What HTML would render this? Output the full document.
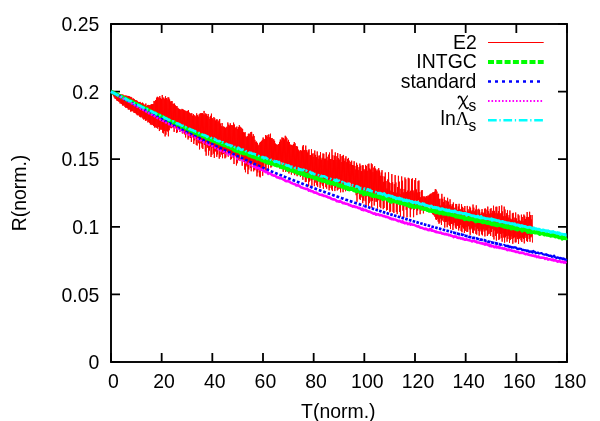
<!DOCTYPE html>
<html><head><meta charset="utf-8"><title>R(norm.) vs T(norm.)</title>
<style>html,body{margin:0;padding:0;background:#fff}body{width:600px;height:421px;overflow:hidden;font-family:"Liberation Sans",sans-serif}</style>
</head><body>
<svg width="600" height="421" viewBox="0 0 600 421" style="display:block;will-change:transform;font-family:'Liberation Sans',sans-serif;font-size:20px">
<rect width="600" height="421" fill="#fff"/>
<g stroke="#000" fill="none" stroke-linecap="square">
<rect x="111.0" y="24.0" width="456.0" height="338.0" stroke-width="1.9"/>
<path d="M111.00 362.0V353.0M111.00 24.0V33.0M161.67 362.0V353.0M161.67 24.0V33.0M212.33 362.0V353.0M212.33 24.0V33.0M263.00 362.0V353.0M263.00 24.0V33.0M313.67 362.0V353.0M313.67 24.0V33.0M364.33 362.0V353.0M364.33 24.0V33.0M415.00 362.0V353.0M415.00 24.0V33.0M465.67 362.0V353.0M465.67 24.0V33.0M516.33 362.0V353.0M516.33 24.0V33.0M567.00 362.0V353.0M567.00 24.0V33.0M111.0 362.00H120.0M567.0 362.00H558.0M111.0 294.40H120.0M567.0 294.40H558.0M111.0 226.80H120.0M567.0 226.80H558.0M111.0 159.20H120.0M567.0 159.20H558.0M111.0 91.60H120.0M567.0 91.60H558.0M111.0 24.00H120.0M567.0 24.00H558.0" stroke-width="1.8" stroke-linecap="butt"/>
</g>
<g fill="#000">
<text transform="translate(113.4 388.4) scale(0.972 1)" text-anchor="middle">0</text>
<text transform="translate(164.1 388.4) scale(0.972 1)" text-anchor="middle">20</text>
<text transform="translate(214.7 388.4) scale(0.972 1)" text-anchor="middle">40</text>
<text transform="translate(265.4 388.4) scale(0.972 1)" text-anchor="middle">60</text>
<text transform="translate(316.1 388.4) scale(0.972 1)" text-anchor="middle">80</text>
<text transform="translate(367.3 388.4) scale(0.972 1)" text-anchor="middle">100</text>
<text transform="translate(418.0 388.4) scale(0.972 1)" text-anchor="middle">120</text>
<text transform="translate(468.7 388.4) scale(0.972 1)" text-anchor="middle">140</text>
<text transform="translate(519.3 388.4) scale(0.972 1)" text-anchor="middle">160</text>
<text transform="translate(570.0 388.4) scale(0.972 1)" text-anchor="middle">180</text>
<text transform="translate(99.3 369.1) scale(0.972 1)" text-anchor="end">0</text>
<text transform="translate(99.3 301.5) scale(0.972 1)" text-anchor="end">0.05</text>
<text transform="translate(99.3 233.9) scale(0.972 1)" text-anchor="end">0.1</text>
<text transform="translate(99.3 166.3) scale(0.972 1)" text-anchor="end">0.15</text>
<text transform="translate(99.3 98.7) scale(0.972 1)" text-anchor="end">0.2</text>
<text transform="translate(99.3 31.1) scale(0.972 1)" text-anchor="end">0.25</text>
<text transform="translate(338.3 417.5) scale(0.972 1)" text-anchor="middle">T(norm.)</text>
<text transform="translate(25.8 193) rotate(-90) scale(0.972 1)" text-anchor="middle">R(norm.)</text>
</g>
<clipPath id="c"><rect x="108.0" y="24.0" width="460.0" height="338.0"/></clipPath>
<g fill="none" stroke-linejoin="round" clip-path="url(#c)">
<path d="M111.00 91.95L111.41 91.09L111.82 93.36L112.23 91.57L112.64 94.60L113.05 91.89L113.46 96.17L113.87 91.98L114.28 97.47L114.69 92.28L115.10 98.72L115.51 92.65L115.92 99.10L116.33 92.37L116.74 100.49L117.15 92.87L117.56 100.97L117.97 93.36L118.38 101.32L118.79 94.02L119.20 102.00L119.61 94.05L120.02 103.42L120.43 94.00L120.84 103.43L121.25 94.52L121.66 104.09L122.07 94.64L122.48 105.41L122.89 94.57L123.30 105.53L123.71 95.37L124.12 105.29L124.53 95.68L124.94 106.90L125.35 95.61L125.76 107.72L126.17 95.52L126.58 107.58L126.99 96.45L127.40 108.09L127.81 95.85L128.22 109.38L128.63 96.09L129.04 109.69L129.45 96.39L129.86 109.35L130.27 96.87L130.68 111.60L131.09 96.93L131.50 111.23L131.91 97.73L132.32 110.98L132.73 99.09L133.14 111.57L133.55 98.53L133.96 112.74L134.37 99.22L134.78 113.03L135.19 100.05L135.60 113.20L136.01 100.08L136.42 114.24L136.83 100.56L137.24 115.19L137.65 101.30L138.06 115.23L138.47 102.08L138.88 115.34L139.29 102.01L139.70 116.72L140.11 101.90L140.52 117.24L140.93 102.86L141.34 116.72L141.75 103.40L142.16 117.67L142.57 102.63L142.98 118.63L143.39 103.61L143.80 119.63L144.21 105.06L144.62 118.86L145.03 104.41L145.44 120.79L145.85 103.53L146.26 120.57L146.67 106.16L147.08 120.18L147.49 105.35L147.90 122.42L148.31 104.92L148.72 122.03L149.13 105.08L149.54 122.98L149.95 105.30L150.36 124.41L150.77 104.71L151.18 124.41L151.59 104.24L152.00 125.09L152.41 104.15L152.82 124.78L153.23 104.07L153.64 126.04L154.05 100.95L154.46 127.51L154.87 101.45L155.28 126.90L155.69 99.98L156.10 127.82L156.51 97.77L156.92 127.50L157.33 96.77L157.74 128.70L158.15 97.35L158.56 127.02L158.97 97.88L159.38 131.04L159.79 96.05L160.20 129.65L160.61 97.92L161.02 129.23L161.43 98.94L161.84 129.75L162.25 94.98L162.66 132.71L163.07 97.71L163.48 133.36L163.89 97.67L164.30 131.08L164.71 99.17L165.12 136.44L165.53 96.23L165.94 134.68L166.35 98.09L166.76 131.07L167.17 99.61L167.58 131.43L167.99 97.33L168.40 136.31L168.81 97.53L169.22 130.30L169.63 99.49L170.04 127.16L170.45 101.60L170.86 128.17L171.27 101.19L171.68 128.16L172.09 101.11L172.50 126.95L172.91 103.90L173.32 128.00L173.73 103.76L174.14 131.90L174.55 103.59L174.96 128.45L175.37 105.33L175.78 127.40L176.19 106.17L176.60 133.03L177.01 106.14L177.42 132.24L177.83 107.80L178.24 129.18L178.65 108.61L179.06 129.00L179.47 109.21L179.88 131.99L180.29 109.41L180.70 129.58L181.11 110.11L181.52 128.43L181.93 108.89L182.34 133.41L182.75 109.08L183.16 133.27L183.57 109.82L183.98 129.65L184.39 110.35L184.80 134.46L185.21 110.69L185.62 137.46L186.03 110.91L186.44 132.07L186.85 111.62L187.26 133.70L187.67 110.83L188.08 139.48L188.49 110.13L188.90 137.73L189.31 112.57L189.72 133.52L190.13 113.23L190.54 137.98L190.95 113.97L191.36 142.00L191.77 113.12L192.18 135.69L192.59 115.70L193.00 137.28L193.41 114.04L193.82 143.91L194.23 115.32L194.64 140.35L195.05 115.68L195.46 137.75L195.87 116.72L196.28 144.96L196.69 113.38L197.10 145.56L197.51 115.28L197.92 138.40L198.33 116.62L198.74 143.24L199.15 114.44L199.56 149.41L199.97 113.61L200.38 142.60L200.79 113.18L201.20 143.75L201.61 113.29L202.02 147.67L202.43 113.14L202.84 148.99L203.25 114.30L203.66 143.00L204.07 110.93L204.48 144.79L204.89 114.65L205.30 151.53L205.71 113.43L206.12 155.69L206.53 114.30L206.94 145.10L207.35 116.10L207.76 147.72L208.17 113.97L208.58 155.41L208.99 116.85L209.40 150.54L209.81 118.91L210.22 146.74L210.63 115.82L211.04 157.03L211.45 113.65L211.86 154.82L212.27 118.12L212.68 147.49L213.09 119.46L213.50 153.51L213.91 117.10L214.32 157.89L214.73 118.24L215.14 151.34L215.55 120.56L215.96 151.40L216.37 119.51L216.78 156.87L217.19 119.43L217.60 154.40L218.01 122.07L218.42 148.85L218.83 120.61L219.24 158.65L219.65 119.04L220.06 156.98L220.47 123.57L220.88 150.28L221.29 126.14L221.70 154.55L222.11 123.00L222.52 158.18L222.93 126.59L223.34 153.92L223.75 126.53L224.16 152.23L224.57 127.12L224.98 158.33L225.39 127.99L225.80 157.40L226.21 127.34L226.62 150.91L227.03 126.66L227.44 152.80L227.85 122.47L228.26 156.64L228.67 124.71L229.08 154.64L229.49 125.62L229.90 151.93L230.31 123.34L230.72 159.67L231.13 125.10L231.54 158.96L231.95 125.38L232.36 153.28L232.77 125.34L233.18 157.93L233.59 122.61L234.00 164.04L234.41 124.57L234.82 156.28L235.23 127.85L235.64 155.82L236.05 127.25L236.46 165.45L236.87 126.58L237.28 163.27L237.69 128.97L238.10 155.72L238.51 127.20L238.92 160.21L239.33 125.24L239.74 160.54L240.15 126.75L240.56 153.14L240.97 127.55L241.38 158.84L241.79 128.22L242.20 165.73L242.61 129.09L243.02 161.96L243.43 132.21L243.84 161.36L244.25 132.83L244.66 169.56L245.07 132.08L245.48 172.28L245.89 136.26L246.30 165.34L246.71 137.17L247.12 166.62L247.53 136.27L247.94 174.12L248.35 133.84L248.76 169.51L249.17 133.61L249.58 162.43L249.99 134.25L250.40 167.78L250.81 132.13L251.22 171.26L251.63 131.90L252.04 164.49L252.45 136.55L252.86 162.65L253.27 134.19L253.68 171.36L254.09 135.94L254.50 170.10L254.91 139.82L255.32 163.68L255.73 141.86L256.14 170.26L256.55 141.62L256.96 176.42L257.37 142.87L257.78 172.46L258.19 145.54L258.60 169.69L259.01 144.65L259.42 176.50L259.83 142.72L260.24 177.37L260.65 141.88L261.06 169.30L261.47 141.26L261.88 169.72L262.29 139.89L262.70 175.76L263.11 137.54L263.52 170.62L263.93 138.95L264.34 162.29L264.75 139.29L265.16 169.69L265.57 135.09L265.98 171.50L266.39 135.67L266.80 164.66L267.21 136.87L267.62 162.87L268.03 134.93L268.44 170.27L268.85 134.40L269.26 164.41L269.67 137.32L270.08 159.80L270.49 133.70L270.90 167.58L271.31 138.17L271.72 166.58L272.13 138.05L272.54 159.57L272.95 139.68L273.36 163.66L273.77 139.27L274.18 165.04L274.59 140.87L275.00 161.64L275.41 143.53L275.82 160.18L276.23 144.31L276.64 165.03L277.05 144.91L277.46 164.94L277.87 144.71L278.28 162.47L278.69 144.00L279.10 163.67L279.51 141.90L279.92 168.71L280.33 139.55L280.74 167.75L281.15 140.48L281.56 161.95L281.97 137.40L282.38 166.82L282.79 137.89L283.20 171.77L283.61 137.91L284.02 165.85L284.43 139.47L284.84 163.34L285.25 135.77L285.66 171.92L286.07 136.76L286.48 169.30L286.89 138.20L287.30 164.32L287.71 141.61L288.12 170.98L288.53 139.87L288.94 173.48L289.35 142.05L289.76 171.50L290.17 144.55L290.58 169.15L290.99 144.85L291.40 174.64L291.81 144.95L292.22 172.47L292.63 145.45L293.04 166.70L293.45 144.02L293.86 173.17L294.27 142.11L294.68 175.16L295.09 143.33L295.50 167.26L295.91 146.11L296.32 169.27L296.73 146.02L297.14 176.19L297.55 146.77L297.96 171.76L298.37 149.68L298.78 169.27L299.19 151.41L299.60 172.91L300.01 150.41L300.42 176.86L300.83 150.03L301.24 172.07L301.65 150.94L302.06 175.32L302.47 146.54L302.88 179.85L303.29 145.00L303.70 173.85L304.11 150.30L304.52 172.10L304.93 149.94L305.34 182.08L305.75 145.61L306.16 181.90L306.57 150.25L306.98 174.55L307.39 152.52L307.80 175.98L308.21 150.37L308.62 186.26L309.03 149.37L309.44 181.54L309.85 155.19L310.26 175.76L310.67 155.17L311.08 180.50L311.49 149.19L311.90 185.78L312.31 153.56L312.72 179.54L313.13 156.90L313.54 179.20L313.95 153.34L314.36 186.15L314.77 150.51L315.18 182.62L315.59 154.89L316.00 177.99L316.41 157.15L316.82 185.32L317.23 151.48L317.64 186.84L318.05 155.61L318.46 178.40L318.87 158.78L319.28 181.32L319.69 155.47L320.10 187.86L320.51 152.17L320.92 184.31L321.33 159.64L321.74 180.29L322.15 157.82L322.56 185.71L322.97 153.46L323.38 188.84L323.79 153.83L324.20 183.17L324.61 158.75L325.02 181.71L325.43 158.73L325.84 187.19L326.25 152.24L326.66 188.70L327.07 156.76L327.48 182.35L327.89 160.27L328.30 181.69L328.71 154.64L329.12 190.32L329.53 152.55L329.94 187.86L330.35 159.21L330.76 183.09L331.17 158.98L331.58 189.46L331.99 149.33L332.40 191.04L332.81 155.26L333.22 184.03L333.63 160.03L334.04 184.16L334.45 155.74L334.86 191.09L335.27 152.39L335.68 187.99L336.09 159.80L336.50 180.53L336.91 156.19L337.32 190.44L337.73 153.10L338.14 189.48L338.55 158.31L338.96 183.41L339.37 159.59L339.78 188.75L340.19 154.09L340.60 192.35L341.01 156.27L341.42 184.03L341.83 162.04L342.24 184.91L342.65 155.75L343.06 192.23L343.47 154.95L343.88 186.84L344.29 160.84L344.70 181.50L345.11 158.40L345.52 191.23L345.93 156.27L346.34 187.89L346.75 162.17L347.16 181.69L347.57 158.99L347.98 188.61L348.39 157.95L348.80 190.31L349.21 160.62L349.62 182.29L350.03 164.23L350.44 182.55L350.85 161.85L351.26 187.81L351.67 160.70L352.08 186.57L352.49 165.05L352.90 183.20L353.31 165.29L353.72 188.31L354.13 161.25L354.54 190.53L354.95 165.90L355.36 186.19L355.77 169.47L356.18 195.22L356.59 162.79L357.00 201.77L357.41 164.89L357.82 194.04L358.23 170.08L358.64 191.45L359.05 167.08L359.46 198.91L359.87 163.58L360.28 200.02L360.69 165.70L361.10 197.37L361.51 171.25L361.92 195.17L362.33 165.33L362.74 203.16L363.15 165.24L363.56 200.51L363.97 168.98L364.38 194.35L364.79 170.33L365.20 201.21L365.61 164.91L366.02 204.99L366.43 166.09L366.84 196.58L367.25 170.78L367.66 195.56L368.07 164.17L368.48 206.07L368.89 163.64L369.30 203.17L369.71 168.47L370.12 194.02L370.53 169.60L370.94 201.42L371.35 163.41L371.76 207.64L372.17 164.26L372.58 200.80L372.99 172.10L373.40 197.85L373.81 167.63L374.22 205.54L374.63 166.13L375.04 201.78L375.45 168.52L375.86 193.98L376.27 170.86L376.68 201.71L377.09 169.53L377.50 208.55L377.91 171.27L378.32 200.24L378.73 168.13L379.14 196.29L379.55 170.60L379.96 206.86L380.37 175.78L380.78 208.20L381.19 172.48L381.60 196.26L382.01 170.17L382.42 197.60L382.83 176.24L383.24 209.15L383.65 181.82L384.06 208.00L384.47 176.68L384.88 196.98L385.29 172.51L385.70 198.34L386.11 181.12L386.52 210.55L386.93 188.50L387.34 209.93L387.75 179.46L388.16 197.65L388.57 172.23L388.98 198.25L389.39 182.48L389.80 212.17L390.21 190.68L390.62 211.56L391.03 183.07L391.44 199.20L391.85 174.06L392.26 199.99L392.67 182.29L393.08 211.91L393.49 192.14L393.90 213.04L394.31 184.18L394.72 201.48L395.13 175.10L395.54 199.71L395.95 182.49L396.36 211.95L396.77 192.71L397.18 214.10L397.59 187.07L398.00 202.47L398.41 175.80L398.82 200.39L399.23 181.65L399.64 211.92L400.05 193.96L400.46 216.34L400.87 188.77L401.28 204.89L401.69 176.41L402.10 199.82L402.51 180.75L402.92 210.65L403.33 192.37L403.74 217.46L404.15 189.04L404.56 206.14L404.97 177.44L405.38 198.95L405.79 179.27L406.20 209.84L406.61 192.05L407.02 217.33L407.43 190.67L407.84 207.00L408.25 177.79L408.66 199.86L409.07 178.44L409.48 208.28L409.89 191.92L410.30 217.22L410.71 190.76L411.12 209.32L411.53 179.17L411.94 199.77L412.35 178.30L412.76 207.29L413.17 190.53L413.58 217.22L413.99 192.47L414.40 209.63L414.81 180.07L415.22 199.96L415.63 178.03L416.04 205.03L416.45 189.53L416.86 215.12L417.27 192.54L417.68 210.49L418.09 181.17L418.50 200.10L418.91 180.47L419.32 205.75L419.73 192.03L420.14 214.19L420.55 197.35L420.96 210.65L421.37 190.56L421.78 204.01L422.19 190.07L422.60 207.24L423.01 196.07L423.42 213.39L423.83 197.11L424.24 210.73L424.65 196.49L425.06 205.76L425.47 197.52L425.88 206.80L426.29 196.00L426.70 208.88L427.11 196.69L427.52 208.41L427.93 195.65L428.34 207.20L428.75 195.60L429.16 207.16L429.57 194.69L429.98 206.80L430.39 193.77L430.80 208.34L431.21 194.16L431.62 210.04L432.03 193.01L432.44 214.00L432.85 192.31L433.26 214.88L433.67 192.22L434.08 215.37L434.49 191.72L434.90 216.77L435.31 189.15L435.72 219.40L436.13 189.66L436.54 219.88L436.95 191.58L437.36 218.78L437.77 194.01L438.18 221.66L438.59 193.77L439.00 223.76L439.41 198.83L439.82 222.58L440.23 205.51L440.64 218.54L441.05 198.69L441.46 224.93L441.87 193.85L442.28 220.51L442.69 198.82L443.10 218.10L443.51 201.96L443.92 221.78L444.33 196.86L444.74 227.61L445.15 200.24L445.56 221.98L445.97 205.30L446.38 221.73L446.79 200.75L447.20 227.25L447.61 197.78L448.02 224.76L448.43 201.70L448.84 221.30L449.25 204.72L449.66 225.82L450.07 199.28L450.48 229.06L450.89 204.26L451.30 223.96L451.71 206.36L452.12 223.80L452.53 204.38L452.94 229.98L453.35 202.46L453.76 225.39L454.17 208.36L454.58 222.68L454.99 207.66L455.40 227.61L455.81 203.91L456.22 228.95L456.63 204.03L457.04 225.45L457.45 209.91L457.86 225.92L458.27 206.44L458.68 230.47L459.09 203.81L459.50 228.12L459.91 208.94L460.32 224.83L460.73 209.65L461.14 231.01L461.55 204.26L461.96 232.26L462.37 206.83L462.78 227.29L463.19 210.94L463.60 228.49L464.01 207.80L464.42 232.98L464.83 206.02L465.24 230.97L465.65 211.27L466.06 227.10L466.47 211.96L466.88 231.96L467.29 205.92L467.70 231.80L468.11 209.32L468.52 226.23L468.93 211.42L469.34 229.38L469.75 206.51L470.16 234.82L470.57 207.73L470.98 229.27L471.39 211.37L471.80 227.94L472.21 210.11L472.62 232.77L473.03 204.52L473.44 233.28L473.85 207.67L474.26 230.48L474.67 211.35L475.08 226.86L475.49 209.63L475.90 233.86L476.31 205.36L476.72 234.61L477.13 209.51L477.54 228.63L477.95 214.23L478.36 230.98L478.77 208.76L479.18 235.71L479.59 209.88L480.00 231.37L480.41 214.37L480.82 229.52L481.23 212.40L481.64 234.36L482.05 209.08L482.46 235.34L482.87 212.36L483.28 229.46L483.69 213.29L484.10 231.52L484.51 208.82L484.92 236.47L485.33 208.48L485.74 230.41L486.15 214.01L486.56 230.28L486.97 209.58L487.38 235.99L487.79 206.60L488.20 234.32L488.61 211.24L489.02 228.10L489.43 213.69L489.84 233.74L490.25 209.00L490.66 235.93L491.07 208.13L491.48 231.99L491.89 213.17L492.30 228.84L492.71 210.88L493.12 237.07L493.53 205.71L493.94 239.51L494.35 210.88L494.76 230.49L495.17 213.19L495.58 235.93L495.99 206.78L496.40 240.61L496.81 206.72L497.22 233.60L497.63 213.48L498.04 232.82L498.45 211.13L498.86 239.99L499.27 206.14L499.68 238.93L500.09 214.31L500.50 233.80L500.91 213.10L501.32 237.89L501.73 205.43L502.14 241.68L502.55 211.46L502.96 233.35L503.37 216.28L503.78 237.55L504.19 206.63L504.60 242.65L505.01 209.49L505.42 237.33L505.83 215.83L506.24 235.99L506.65 213.24L507.06 241.70L507.47 209.97L507.88 238.94L508.29 217.58L508.70 235.68L509.11 215.12L509.52 242.96L509.93 210.48L510.34 240.06L510.75 218.70L511.16 236.43L511.57 219.56L511.98 239.00L512.39 213.42L512.80 243.75L513.21 212.84L513.62 238.22L514.03 220.07L514.44 237.25L514.85 217.64L515.26 242.38L515.67 212.51L516.08 242.30L516.49 218.46L516.90 237.16L517.31 221.18L517.72 239.11L518.13 214.33L518.54 243.99L518.95 215.49L519.36 238.68L519.77 220.27L520.18 237.88L520.59 221.10L521.00 240.34L521.41 214.67L521.82 242.01L522.23 216.98L522.64 237.66L523.05 221.22L523.46 238.88L523.87 214.54L524.28 243.41L524.69 215.73L525.10 237.88L525.51 219.02L525.92 235.40L526.33 217.21L526.74 241.11L527.15 212.02L527.56 241.76L527.97 216.93L528.38 235.07L528.79 217.19L529.20 239.03L529.61 211.79L530.02 241.76L530.43 215.01L530.84 237.44L531.25 219.46L531.66 236.57L532.07 215.02L532.48 242.65" stroke="#ff0000" stroke-width="1"/>
<path d="M111.0 91.8L111.8 92.0L112.6 92.4L113.4 92.9L114.2 93.1L115.0 93.6L115.8 94.0L116.6 94.2L117.4 95.0L118.2 95.3L119.0 95.6L119.8 96.0L120.6 96.5L121.4 96.8L122.2 97.2L123.0 97.4L123.8 98.1L124.6 98.4L125.4 98.8L126.2 98.9L127.0 99.9L127.8 100.0L128.6 100.4L129.4 101.2L130.2 101.2L131.0 101.4L131.8 102.0L132.6 102.0L133.4 103.0L134.2 103.2L135.0 103.5L135.8 104.2L136.6 104.1L137.4 105.0L138.2 104.9L139.0 105.5L139.8 105.8L140.6 106.7L141.4 107.2L142.2 107.2L143.0 107.8L143.8 108.0L144.6 108.6L145.4 108.7L146.2 108.9L147.0 109.3L147.8 110.2L148.6 111.0L149.4 110.9L150.2 111.2L151.0 112.1L151.8 112.1L152.6 112.5L153.4 112.9L154.2 113.2L155.0 113.6L155.8 113.7L156.6 114.6L157.4 114.8L158.2 115.5L159.0 115.5L159.8 115.6L160.6 116.4L161.4 117.2L162.2 117.1L163.0 117.4L163.8 117.7L164.6 118.1L165.4 118.7L166.2 118.8L167.0 119.9L167.8 119.8L168.6 120.3L169.4 121.1L170.2 121.5L171.0 121.4L171.8 121.9L172.6 122.4L173.4 122.5L174.2 122.4L175.0 123.5L175.8 124.0L176.6 124.2L177.4 124.2L178.2 124.8L179.0 125.1L179.8 125.5L180.6 126.4L181.4 126.8L182.2 127.0L183.0 127.3L183.8 127.7L184.6 127.9L185.4 128.2L186.2 128.4L187.0 129.0L187.8 130.1L188.6 130.0L189.4 130.0L190.2 130.3L191.0 130.5L191.8 131.3L192.6 131.7L193.4 131.4L194.2 132.5L195.0 132.5L195.8 133.5L196.6 133.4L197.4 134.4L198.2 133.9L199.0 134.4L199.8 134.9L200.6 135.6L201.4 135.8L202.2 135.4L203.0 136.3L203.8 136.6L204.6 136.8L205.4 137.1L206.2 138.4L207.0 137.9L207.8 138.0L208.6 139.0L209.4 139.1L210.2 139.4L211.0 140.0L211.8 140.3L212.6 140.5L213.4 141.1L214.2 141.2L215.0 141.1L215.8 141.6L216.6 141.8L217.4 142.5L218.2 142.3L219.0 142.3L219.8 143.4L220.6 143.1L221.4 143.2L222.2 144.5L223.0 144.4L223.8 145.2L224.6 145.1L225.4 145.1L226.2 145.4L227.0 146.1L227.8 146.5L228.6 146.6L229.4 147.1L230.2 146.9L231.0 147.9L231.8 147.4L232.6 148.4L233.4 149.2L234.2 149.7L235.0 150.3L235.8 149.1L236.6 150.5L237.4 151.0L238.2 151.2L239.0 150.6L239.8 151.5L240.6 152.6L241.4 151.2L242.2 152.5L243.0 153.1L243.8 152.5L244.6 153.5L245.4 153.0L246.2 153.4L247.0 153.7L247.8 154.5L248.6 154.7L249.4 155.5L250.2 154.8L251.0 155.6L251.8 156.4L252.6 156.5L253.4 155.8L254.2 157.2L255.0 156.9L255.8 157.6L256.6 157.9L257.4 158.7L258.2 158.4L259.0 157.6L259.8 158.2L260.6 159.6L261.4 159.4L262.2 160.4L263.0 160.2L263.8 160.0L264.6 161.3L265.4 160.5L266.2 160.1L267.0 162.7L267.8 160.8L268.6 162.5L269.4 162.9L270.2 162.8L271.0 162.1L271.8 163.8L272.6 162.8L273.4 163.1L274.2 163.9L275.0 164.8L275.8 164.9L276.6 165.4L277.4 165.0L278.2 165.4L279.0 165.2L279.8 165.9L280.6 166.7L281.4 166.5L282.2 167.2L283.0 166.9L283.8 167.2L284.6 167.8L285.4 167.9L286.2 168.6L287.0 168.7L287.8 169.8L288.6 169.0L289.4 169.3L290.2 169.1L291.0 170.0L291.8 170.6L292.6 170.1L293.4 170.7L294.2 171.4L295.0 171.2L295.8 171.3L296.6 172.4L297.4 172.2L298.2 172.6L299.0 173.3L299.8 173.5L300.6 173.0L301.4 173.2L302.2 173.9L303.0 173.9L303.8 173.2L304.6 175.2L305.4 174.8L306.2 175.4L307.0 174.6L307.8 176.3L308.6 175.5L309.4 176.0L310.2 175.6L311.0 176.5L311.8 176.7L312.6 177.0L313.4 177.6L314.2 177.6L315.0 178.4L315.8 177.9L316.6 177.8L317.4 178.6L318.2 179.2L319.0 179.8L319.8 179.8L320.6 178.7L321.4 180.1L322.2 180.9L323.0 180.4L323.8 180.4L324.6 181.1L325.4 180.9L326.2 181.7L327.0 181.6L327.8 182.7L328.6 182.4L329.4 182.0L330.2 183.0L331.0 183.4L331.8 182.8L332.6 183.1L333.4 182.3L334.2 184.3L335.0 183.8L335.8 183.2L336.6 183.6L337.4 184.7L338.2 185.5L339.0 185.2L339.8 185.8L340.6 185.2L341.4 185.3L342.2 186.8L343.0 186.8L343.8 186.7L344.6 187.7L345.4 186.7L346.2 187.3L347.0 188.3L347.8 189.0L348.6 188.2L349.4 189.4L350.2 188.4L351.0 189.1L351.8 189.1L352.6 188.5L353.4 189.8L354.2 190.4L355.0 190.0L355.8 190.3L356.6 191.4L357.4 190.2L358.2 190.2L359.0 190.9L359.8 190.9L360.6 192.5L361.4 192.2L362.2 191.8L363.0 192.1L363.8 194.3L364.6 192.6L365.4 192.8L366.2 193.6L367.0 194.0L367.8 194.0L368.6 193.6L369.4 193.7L370.2 194.9L371.0 194.7L371.8 194.1L372.6 195.9L373.4 195.9L374.2 195.5L375.0 195.8L375.8 196.3L376.6 196.0L377.4 195.8L378.2 197.0L379.0 196.2L379.8 197.5L380.6 196.7L381.4 197.6L382.2 197.8L383.0 199.1L383.8 197.8L384.6 197.8L385.4 198.4L386.2 198.4L387.0 198.9L387.8 199.7L388.6 200.1L389.4 200.8L390.2 199.7L391.0 201.8L391.8 201.6L392.6 200.6L393.4 199.7L394.2 201.1L395.0 201.4L395.8 200.4L396.6 201.9L397.4 201.9L398.2 201.8L399.0 202.8L399.8 203.2L400.6 202.6L401.4 203.2L402.2 203.0L403.0 203.1L403.8 203.8L404.6 204.2L405.4 203.8L406.2 203.1L407.0 204.8L407.8 203.8L408.6 205.0L409.4 206.1L410.2 205.3L411.0 204.9L411.8 204.9L412.6 206.6L413.4 206.1L414.2 206.6L415.0 207.0L415.8 206.7L416.6 206.7L417.4 206.6L418.2 205.6L419.0 206.6L419.8 207.6L420.6 207.8L421.4 208.3L422.2 208.2L423.0 208.5L423.8 209.1L424.6 208.3L425.4 208.8L426.2 208.3L427.0 209.9L427.8 209.6L428.6 210.0L429.4 210.8L430.2 210.7L431.0 210.3L431.8 210.9L432.6 209.9L433.4 211.1L434.2 211.2L435.0 210.4L435.8 212.2L436.6 211.2L437.4 212.2L438.2 211.8L439.0 212.7L439.8 213.1L440.6 212.1L441.4 211.9L442.2 212.8L443.0 213.6L443.8 213.1L444.6 213.1L445.4 213.9L446.2 212.3L447.0 213.6L447.8 213.4L448.6 214.5L449.4 214.1L450.2 214.1L451.0 214.7L451.8 214.3L452.6 215.3L453.4 215.1L454.2 215.4L455.0 215.4L455.8 216.5L456.6 216.1L457.4 216.6L458.2 216.8L459.0 216.2L459.8 217.2L460.6 217.2L461.4 217.4L462.2 217.1L463.0 217.3L463.8 218.1L464.6 219.1L465.4 217.6L466.2 218.5L467.0 218.2L467.8 219.0L468.6 219.0L469.4 219.5L470.2 217.5L471.0 218.9L471.8 218.9L472.6 219.5L473.4 219.4L474.2 219.6L475.0 220.5L475.8 221.3L476.6 218.9L477.4 220.4L478.2 220.9L479.0 220.9L479.8 220.9L480.6 220.5L481.4 220.9L482.2 222.0L483.0 222.3L483.8 222.0L484.6 221.6L485.4 222.3L486.2 222.3L487.0 222.9L487.8 222.8L488.6 222.6L489.4 223.2L490.2 222.6L491.0 223.8L491.8 224.2L492.6 223.1L493.4 224.1L494.2 223.5L495.0 224.8L495.8 224.9L496.6 224.4L497.4 225.3L498.2 224.7L499.0 224.7L499.8 224.9L500.6 225.3L501.4 225.4L502.2 225.8L503.0 225.5L503.8 226.5L504.6 226.8L505.4 226.1L506.2 225.8L507.0 227.1L507.8 227.5L508.6 226.9L509.4 226.5L510.2 227.5L511.0 228.4L511.8 226.6L512.6 228.1L513.4 227.8L514.2 227.7L515.0 228.6L515.8 227.8L516.6 228.8L517.4 229.5L518.2 229.1L519.0 228.6L519.8 228.3L520.6 228.7L521.4 228.6L522.2 230.6L523.0 229.8L523.8 229.5L524.6 229.5L525.4 229.8L526.2 230.3L527.0 230.0L527.8 231.8L528.6 230.6L529.4 230.7L530.2 231.5L531.0 232.3L531.8 232.3L532.6 231.5L533.4 232.1L534.2 232.1L535.0 232.5L535.8 232.5L536.6 232.0L537.4 232.0L538.2 232.9L539.0 232.3L539.8 233.9L540.6 233.3L541.4 232.9L542.2 233.4L543.0 233.4L543.8 233.8L544.6 234.5L545.4 233.4L546.2 233.3L547.0 234.7L547.8 234.5L548.6 234.9L549.4 235.2L550.2 235.0L551.0 235.7L551.8 234.9L552.6 235.5L553.4 235.2L554.2 235.2L555.0 236.3L555.8 236.4L556.6 235.2L557.4 235.8L558.2 236.7L559.0 237.3L559.8 236.4L560.6 236.9L561.4 236.3L562.2 238.6L563.0 237.6L563.8 238.0L564.6 238.0L565.4 238.3L566.2 238.3L567.0 237.9" stroke="#00ff00" stroke-width="4.0"/>
<g stroke="#0000ff" stroke-width="2.7">
<path d="M111.0 91.6L112.0 92.2L113.0 92.7L114.0 93.3L115.0 93.8L116.0 94.4L117.0 94.9L118.0 95.4L119.0 96.0L120.0 96.5L121.0 97.1L122.0 97.6L123.0 98.1L124.0 98.7L125.0 99.2L126.0 99.8L127.0 100.3L128.0 100.9L129.0 101.4L130.0 102.0L131.0 102.5L132.0 103.1L133.0 103.6L134.0 104.2L135.0 104.7L136.0 105.3L137.0 105.8L138.0 106.4L139.0 106.9L140.0 107.4L141.0 108.0L142.0 108.5L143.0 109.1L144.0 109.6L145.0 110.2L146.0 110.7L147.0 111.3L148.0 111.8L149.0 112.4L150.0 112.9L151.0 113.5L152.0 114.0L153.0 114.5L154.0 115.1L155.0 115.6L156.0 116.2L157.0 116.7L158.0 117.2L159.0 117.8L160.0 118.3L161.0 118.8L162.0 119.3L163.0 119.9L164.0 120.4L165.0 120.9L166.0 121.4L167.0 122.0L168.0 122.5L169.0 123.0L170.0 123.5L171.0 124.0L172.0 124.6L173.0 125.1L174.0 125.6L175.0 126.1L176.0 126.6L177.0 127.1L178.0 127.6L179.0 128.1L180.0 128.6L181.0 129.1L182.0 129.6L183.0 130.2L184.0 130.7L185.0 131.2L186.0 131.7L187.0 132.2L188.0 132.6L189.0 133.1L190.0 133.6L191.0 134.1L192.0 134.6L193.0 135.1L194.0 135.6L195.0 136.1L196.0 136.6L197.0 137.1L198.0 137.6L199.0 138.0L200.0 138.5L201.0 139.0L202.0 139.5L203.0 140.0L204.0 140.5L205.0 140.9L206.0 141.4L207.0 141.9L208.0 142.4L209.0 142.9L210.0 143.3L211.0 143.8L212.0 144.3L213.0 144.8L214.0 145.2L215.0 145.7L216.0 146.2L217.0 146.6L218.0 147.1L219.0 147.6L220.0 148.0L221.0 148.5L222.0 149.0L223.0 149.4L224.0 149.9L225.0 150.4L226.0 150.8L227.0 151.3L228.0 151.7L229.0 152.2L230.0 152.6L231.0 153.1L232.0 153.6L233.0 154.1L234.0 154.5L235.0 155.0L236.0 155.5L237.0 155.9L238.0 156.4L239.0 156.9L240.0 157.3L241.0 157.8L242.0 158.3L243.0 158.7L244.0 159.2L245.0 159.7L246.0 160.1L247.0 160.6L248.0 161.0L249.0 161.5L250.0 161.9L251.0 162.4L252.0 162.9L253.0 163.3L254.0 163.8L255.0 164.2L256.0 164.7L257.0 165.1L258.0 165.6L259.0 166.0L260.0 166.4L261.0 166.9L262.0 167.3L263.0 167.8L264.0 168.2L265.0 168.7L266.0 169.1L267.0 169.5L268.0 170.0L269.0 170.4L270.0 170.9L271.0 171.3L272.0 171.7L273.0 172.1L274.0 172.5L275.0 172.9L276.0 173.3L277.0 173.7L278.0 174.1L279.0 174.5L280.0 174.9L281.0 175.3L282.0 175.8L283.0 176.2L284.0 176.6L285.0 177.0L286.0 177.3L287.0 177.7L288.0 178.1L289.0 178.5L290.0 178.9L291.0 179.3L292.0 179.7L293.0 180.1L294.0 180.5L295.0 180.9L296.0 181.3L297.0 181.7L298.0 182.1L299.0 182.4L300.0 182.8L301.0 183.2L302.0 183.6L303.0 184.0L304.0 184.4L305.0 184.7L306.0 185.1L307.0 185.5L308.0 185.9L309.0 186.3L310.0 186.6L311.0 187.0L312.0 187.4L313.0 187.8L314.0 188.1L315.0 188.5L316.0 188.9L317.0 189.3L318.0 189.6L319.0 190.0L320.0 190.4L321.0 190.7L322.0 191.1L323.0 191.5L324.0 191.8L325.0 192.2L326.0 192.6L327.0 192.9L328.0 193.3L329.0 193.6L330.0 194.0L331.0 194.4L332.0 194.7L333.0 195.1L334.0 195.4L335.0 195.8L336.0 196.1L337.0 196.5L338.0 196.9L339.0 197.2L340.0 197.6L341.0 197.9L342.0 198.3L343.0 198.6L344.0 199.0L345.0 199.3L346.0 199.7L347.0 200.0L348.0 200.4L349.0 200.7L350.0 201.0L351.0 201.4L352.0 201.7L353.0 202.1L354.0 202.4L355.0 202.8L356.0 203.1L357.0 203.4L358.0 203.8L359.0 204.1L360.0 204.4L361.0 204.8L362.0 205.1L363.0 205.4L364.0 205.8" stroke-dasharray="2.8 1.9"/>
<path d="M364.3 205.9L365.3 206.2L366.3 206.6L367.3 206.9L368.3 207.2L369.3 207.5L370.3 207.9L371.3 208.2L372.3 208.5L373.3 208.9L374.3 209.2L375.3 209.5L376.3 209.8L377.3 210.2L378.3 210.5L379.3 210.8L380.3 211.1L381.3 211.4L382.3 211.8L383.3 212.1L384.3 212.4L385.3 212.7L386.3 213.0L387.3 213.3L388.3 213.7L389.3 214.0L390.3 214.3L391.3 214.6L392.3 214.9L393.3 215.2L394.3 215.5L395.3 215.8L396.3 216.1L397.3 216.4L398.3 216.7L399.3 217.0L400.3 217.3L401.3 217.6L402.3 217.9L403.3 218.2L404.3 218.5L405.3 218.8L406.3 219.1L407.3 219.4L408.3 219.7L409.3 220.0L410.3 220.3L411.3 220.6L412.3 220.9L413.3 221.2L414.3 221.5L415.3 221.8L416.3 222.1L417.3 222.4L418.3 222.7L419.3 223.0L420.3 223.3L421.3 223.5L422.3 223.8L423.3 224.1L424.3 224.4L425.3 224.7L426.3 225.0L427.3 225.3L428.3 225.5L429.3 225.8L430.3 226.1L431.3 226.4L432.3 226.7L433.3 227.0L434.3 227.2L435.3 227.5L436.3 227.8L437.3 228.1L438.3 228.4L439.3 228.6L440.3 228.9L441.3 229.2L442.3 229.5L443.3 229.7L444.3 230.0L445.3 230.3L446.3 230.6L447.3 230.8L448.3 231.1L449.3 231.4L450.3 231.6L451.3 231.9L452.3 232.2" stroke-dasharray="2.6 1.3"/>
<path d="M453.0 232.5L454.0 232.6L455.0 233.1L456.0 233.1L457.0 233.4L458.0 233.8L459.0 234.2L460.0 234.3L461.0 234.4L462.0 234.7L463.0 234.9L464.0 235.6L465.0 235.7L466.0 236.0L467.0 236.1L468.0 236.2L469.0 236.8L470.0 237.1L471.0 237.2L472.0 237.4L473.0 237.8L474.0 237.8L475.0 238.2L476.0 238.3L477.0 238.5L478.0 239.0L479.0 239.2L480.0 239.7L481.0 239.6L482.0 239.9L483.0 240.0L484.0 240.1L485.0 240.4L486.0 241.0L487.0 241.0L488.0 241.6L489.0 241.9L490.0 241.9L491.0 242.4L492.0 242.4L493.0 242.8L494.0 242.9L495.0 243.3L496.0 243.2L497.0 243.7L498.0 243.8L499.0 244.1L500.0 244.4L501.0 244.6L502.0 244.8L503.0 245.2" stroke-dasharray="3.3 0.7"/>
<path d="M503.7 245.6L504.5 244.8L505.3 245.9L506.1 246.1L506.9 245.6L507.7 246.3L508.5 245.8L509.3 247.2L510.1 246.6L510.9 246.9L511.7 247.6L512.5 247.2L513.3 247.7L514.1 247.2L514.9 247.6L515.7 247.4L516.5 248.1L517.3 248.9L518.1 248.7L518.9 249.2L519.7 248.5L520.5 248.7L521.3 249.1L522.1 249.8L522.9 249.8L523.7 249.9L524.5 250.3L525.3 250.2L526.1 250.4L526.9 251.2L527.7 250.5L528.5 251.0L529.3 251.9L530.1 251.4L530.9 251.8L531.7 251.4L532.5 252.7L533.3 251.0L534.1 251.7L534.9 251.9L535.7 253.3L536.5 252.9L537.3 252.8L538.1 252.5L538.9 253.4L539.7 253.5L540.5 253.3L541.3 253.1L542.1 253.5L542.9 254.3L543.7 254.5L544.5 254.6L545.3 254.7L546.1 254.2L546.9 255.2L547.7 254.9L548.5 255.6L549.3 255.9L550.1 255.6L550.9 255.7L551.7 256.8L552.5 256.7L553.3 256.4L554.1 255.6L554.9 257.1L555.7 257.6L556.5 258.0L557.3 257.4L558.1 257.6L558.9 257.9L559.7 258.6L560.5 257.9L561.3 258.6L562.1 258.4L562.9 259.1L563.7 258.5L564.5 259.6L565.3 259.4L566.1 259.7L566.9 260.2" stroke-width="2.2"/>
</g>
<path d="M111.0 91.7L111.8 92.0L112.6 92.6L113.4 93.0L114.2 93.4L115.0 94.0L115.8 94.4L116.6 94.9L117.4 95.2L118.2 95.7L119.0 96.3L119.8 96.8L120.6 97.1L121.4 97.6L122.2 98.0L123.0 98.3L123.8 98.9L124.6 99.5L125.4 99.6L126.2 100.2L127.0 100.5L127.8 101.2L128.6 101.7L129.4 102.0L130.2 102.5L131.0 103.1L131.8 103.5L132.6 103.8L133.4 104.3L134.2 104.7L135.0 105.4L135.8 105.7L136.6 106.3L137.4 106.8L138.2 107.1L139.0 107.5L139.8 108.1L140.6 108.5L141.4 109.0L142.2 109.2L143.0 109.9L143.8 110.2L144.6 110.5L145.4 111.1L146.2 111.7L147.0 112.4L147.8 112.5L148.6 112.9L149.4 113.7L150.2 113.9L151.0 114.3L151.8 114.7L152.6 115.1L153.4 115.9L154.2 116.1L155.0 116.5L155.8 117.0L156.6 117.7L157.4 117.9L158.2 118.5L159.0 118.9L159.8 119.3L160.6 119.6L161.4 120.2L162.2 120.8L163.0 121.0L163.8 121.3L164.6 121.7L165.4 122.3L166.2 122.7L167.0 123.2L167.8 123.6L168.6 123.8L169.4 124.6L170.2 124.9L171.0 125.3L171.8 125.8L172.6 126.3L173.4 126.6L174.2 126.9L175.0 127.6L175.8 127.8L176.6 128.2L177.4 128.5L178.2 129.1L179.0 129.4L179.8 129.9L180.6 130.5L181.4 130.8L182.2 131.4L183.0 131.7L183.8 132.0L184.6 132.4L185.4 132.8L186.2 133.4L187.0 133.7L187.8 134.0L188.6 134.7L189.4 134.9L190.2 135.3L191.0 135.5L191.8 136.2L192.6 136.6L193.4 137.0L194.2 137.3L195.0 137.6L195.8 138.1L196.6 138.6L197.4 139.0L198.2 139.3L199.0 139.7L199.8 140.2L200.6 140.6L201.4 140.8L202.2 141.5L203.0 141.9L203.8 142.4L204.6 142.6L205.4 142.9L206.2 143.1L207.0 143.9L207.8 143.7L208.6 144.5L209.4 144.9L210.2 145.5L211.0 145.7L211.8 145.9L212.6 146.2L213.4 146.8L214.2 147.3L215.0 147.7L215.8 148.0L216.6 148.3L217.4 148.8L218.2 149.5L219.0 149.4L219.8 150.0L220.6 150.8L221.4 150.9L222.2 151.1L223.0 151.7L223.8 151.8L224.6 152.3L225.4 153.1L226.2 153.5L227.0 153.0L227.8 154.0L228.6 154.7L229.4 154.4L230.2 155.0L231.0 155.7L231.8 155.6L232.6 156.3L233.4 156.5L234.2 156.4L235.0 157.4L235.8 157.7L236.6 158.3L237.4 159.0L238.2 159.1L239.0 159.2L239.8 159.8L240.6 160.1L241.4 160.7L242.2 160.4L243.0 160.9L243.8 161.0L244.6 162.1L245.4 162.3L246.2 162.6L247.0 162.9L247.8 163.3L248.6 163.6L249.4 164.2L250.2 164.5L251.0 165.4L251.8 165.5L252.6 165.5" stroke="#ff00ff" stroke-width="2.2" stroke-dasharray="2.2 1.1"/>
<path d="M252.9 165.7L253.7 166.7L254.5 166.8L255.3 167.1L256.1 167.6L256.9 168.3L257.7 167.7L258.5 168.2L259.3 168.3L260.1 169.4L260.9 169.5L261.7 169.7L262.5 170.1L263.3 170.9L264.1 171.0L264.9 171.3L265.7 172.2L266.5 171.8L267.3 172.1L268.1 173.8L268.9 173.1L269.7 173.4L270.5 173.7L271.3 174.3L272.1 175.0L272.9 175.3L273.7 175.6L274.5 175.6L275.3 175.5L276.1 176.5L276.9 177.3L277.7 177.5L278.5 177.4L279.3 178.1L280.1 178.0L280.9 178.4L281.7 178.4L282.5 179.0L283.3 179.5L284.1 179.8L284.9 180.4L285.7 181.1L286.5 181.3L287.3 181.1L288.1 181.2L288.9 181.6L289.7 181.8L290.5 182.5L291.3 183.0L292.1 183.2L292.9 183.6L293.7 183.9L294.5 184.1L295.3 184.2L296.1 185.4L296.9 185.5L297.7 185.1L298.5 185.5L299.3 185.9L300.1 186.5L300.9 187.2L301.7 187.4L302.5 187.8L303.3 188.1L304.1 188.4L304.9 188.6L305.7 188.9L306.5 189.0L307.3 188.7L308.1 189.6L308.9 190.6L309.7 190.1L310.5 190.4L311.3 191.3L312.1 191.3L312.9 191.4L313.7 192.4L314.5 192.4L315.3 192.8L316.1 192.6L316.9 193.3L317.7 193.5L318.5 194.0L319.3 194.4L320.1 194.7L320.9 194.7L321.7 195.1L322.5 194.8L323.3 195.7L324.1 196.0L324.9 195.9L325.7 196.1L326.5 196.6L327.3 196.5L328.1 197.4L328.9 197.6L329.7 197.5L330.5 198.1L331.3 198.8L332.1 199.1L332.9 199.4L333.7 199.2L334.5 199.5L335.3 199.7L336.1 200.4L336.9 201.3L337.7 201.2L338.5 201.6L339.3 201.8L340.1 201.0L340.9 201.8L341.7 202.0L342.5 202.9L343.3 203.3L344.1 202.8L344.9 203.3L345.7 203.8L346.5 203.7L347.3 203.9L348.1 204.2L348.9 205.0L349.7 204.7L350.5 205.6L351.3 205.6L352.1 206.1L352.9 206.6L353.7 206.1L354.5 206.3L355.3 207.1L356.1 206.8L356.9 207.2L357.7 207.7L358.5 208.1L359.3 207.8L360.1 208.4L360.9 209.0L361.7 209.6L362.5 208.7L363.3 210.1L364.1 210.2L364.9 209.8L365.7 209.9L366.5 210.8L367.3 210.8L368.1 211.3L368.9 211.8L369.7 211.6L370.5 212.1L371.3 212.5L372.1 212.9L372.9 213.4L373.7 213.7L374.5 213.4L375.3 213.5L376.1 214.7L376.9 214.4L377.7 214.5L378.5 214.3L379.3 215.2L380.1 214.9L380.9 215.3L381.7 215.2L382.5 215.8L383.3 216.2L384.1 215.9L384.9 216.4L385.7 216.9L386.5 216.8L387.3 217.0L388.1 217.4L388.9 217.5L389.7 218.4L390.5 218.1L391.3 219.0L392.1 219.3L392.9 218.8L393.7 219.4L394.5 219.5L395.3 219.5L396.1 220.0L396.9 220.3L397.7 220.9L398.5 221.2L399.3 220.7L400.1 221.2L400.9 221.8L401.7 222.2L402.5 221.2L403.3 222.7L404.1 222.5L404.9 223.3L405.7 222.9L406.5 222.9L407.3 223.5L408.1 224.1L408.9 223.9L409.7 223.3L410.5 224.6L411.3 224.1L412.1 224.5L412.9 224.7L413.7 224.7L414.5 225.1L415.3 225.4L416.1 225.8L416.9 226.2L417.7 226.4L418.5 226.2L419.3 226.9L420.1 227.5L420.9 227.7L421.7 227.7L422.5 228.1L423.3 228.4L424.1 228.8L424.9 229.1L425.7 228.6L426.5 228.9L427.3 229.7L428.1 230.0L428.9 230.2L429.7 229.0L430.5 230.0L431.3 229.2L432.1 230.8L432.9 230.8L433.7 231.0L434.5 231.1L435.3 231.9L436.1 231.5L436.9 232.2L437.7 232.2L438.5 232.4L439.3 232.6L440.1 232.7L440.9 232.5L441.7 233.4L442.5 233.6L443.3 233.5L444.1 234.0L444.9 234.3L445.7 233.8L446.5 234.4L447.3 234.5L448.1 234.5L448.9 235.2L449.7 235.0L450.5 235.3L451.3 235.8L452.1 236.0L452.9 236.2L453.7 237.1L454.5 236.4L455.3 236.8L456.1 236.5L456.9 237.3L457.7 237.8L458.5 238.0L459.3 237.6L460.1 237.9L460.9 238.6L461.7 238.4L462.5 238.9L463.3 238.5L464.1 239.5L464.9 239.6L465.7 239.6L466.5 239.3L467.3 239.8L468.1 240.1L468.9 240.3L469.7 240.4L470.5 240.6L471.3 240.9L472.1 241.5L472.9 240.5L473.7 241.0L474.5 241.1L475.3 241.6L476.1 241.4L476.9 242.4L477.7 242.5L478.5 242.5L479.3 242.6L480.1 243.1L480.9 243.3L481.7 243.5L482.5 243.3L483.3 244.0L484.1 243.5L484.9 244.6L485.7 243.3L486.5 244.4L487.3 244.3L488.1 245.2L488.9 244.6L489.7 246.0L490.5 245.0L491.3 246.4L492.1 246.1L492.9 246.1L493.7 246.5L494.5 247.3L495.3 247.0L496.1 246.1L496.9 247.5L497.7 247.3L498.5 246.9L499.3 247.9L500.1 247.4L500.9 248.1L501.7 248.3L502.5 248.2L503.3 248.8L504.1 248.4L504.9 249.0L505.7 249.0L506.5 249.3L507.3 250.2L508.1 249.8L508.9 249.5L509.7 250.1L510.5 250.0L511.3 250.5L512.1 250.8L512.9 250.9L513.7 251.1L514.5 251.1L515.3 251.6L516.1 252.0L516.9 251.6L517.7 252.0L518.5 252.2L519.3 252.8L520.1 253.0L520.9 252.5L521.7 253.0L522.5 252.6L523.3 253.0L524.1 253.5L524.9 253.9L525.7 254.2L526.5 254.0L527.3 253.8L528.1 254.6L528.9 254.6L529.7 255.0L530.5 255.0L531.3 255.4L532.1 255.6L532.9 255.8L533.7 255.6L534.5 256.2L535.3 255.9L536.1 256.3L536.9 257.1L537.7 256.7L538.5 256.4L539.3 257.5L540.1 257.5L540.9 257.7L541.7 257.6L542.5 257.8L543.3 257.8L544.1 257.8L544.9 258.8L545.7 258.3L546.5 258.4L547.3 258.6L548.1 259.6L548.9 259.4L549.7 259.1L550.5 259.4L551.3 259.8L552.1 260.1L552.9 259.4L553.7 260.5L554.5 260.2L555.3 260.2L556.1 260.5L556.9 261.1L557.7 261.6L558.5 261.2L559.3 261.5L560.1 261.2L560.9 261.9L561.7 262.1L562.5 261.5L563.3 262.0L564.1 262.6L564.9 261.9L565.7 262.6L566.5 263.1" stroke="#ff00ff" stroke-width="2.6"/>
<path d="M111.0 91.5L111.8 92.0L112.6 92.4L113.4 92.9L114.2 93.1L115.0 93.7L115.8 94.1L116.6 94.5L117.4 94.9L118.2 95.3L119.0 95.7L119.8 95.9L120.6 96.3L121.4 96.7L122.2 97.2L123.0 97.7L123.8 97.8L124.6 98.4L125.4 98.6L126.2 99.0L127.0 99.7L127.8 100.0L128.6 100.6L129.4 100.9L130.2 101.1L131.0 101.3L131.8 102.2L132.6 102.3L133.4 102.6L134.2 103.2L135.0 103.5L135.8 103.8L136.6 104.3L137.4 104.7L138.2 105.1L139.0 105.6L139.8 105.8L140.6 106.2L141.4 106.7L142.2 107.1L143.0 107.6L143.8 107.8L144.6 108.2L145.4 108.4L146.2 109.2L147.0 109.1L147.8 109.8L148.6 110.0L149.4 110.6L150.2 111.0L151.0 111.0L151.8 111.6L152.6 111.8L153.4 112.7L154.2 112.7L155.0 112.9L155.8 113.5L156.6 114.2L157.4 114.6L158.2 114.9L159.0 114.9L159.8 115.4L160.6 116.1L161.4 116.1L162.2 116.5L163.0 116.8L163.8 117.1L164.6 117.9L165.4 118.2L166.2 118.5L167.0 118.9L167.8 119.4L168.6 119.8L169.4 119.9L170.2 120.2L171.0 120.4L171.8 121.2L172.6 121.2L173.4 121.4L174.2 122.0L175.0 122.5L175.8 123.0L176.6 123.4L177.4 123.4L178.2 123.7L179.0 124.2L179.8 124.4L180.6 125.0L181.4 125.5L182.2 125.7L183.0 125.7L183.8 126.2L184.6 127.1L185.4 126.9L186.2 127.7L187.0 128.0L187.8 128.1L188.6 128.3L189.4 129.0L190.2 129.1L191.0 129.6L191.8 130.0L192.6 130.1L193.4 130.6L194.2 131.0L195.0 131.1L195.8 131.7L196.6 131.9L197.4 131.9L198.2 132.7L199.0 133.0L199.8 133.3L200.6 133.2L201.4 134.3L202.2 134.6L203.0 134.9L203.8 135.2L204.6 135.0L205.4 135.7L206.2 135.8L207.0 137.0L207.8 136.5L208.6 137.2L209.4 136.9L210.2 137.3L211.0 137.8L211.8 138.4L212.6 138.7L213.4 139.0L214.2 138.6L215.0 139.8L215.8 139.5L216.6 140.6L217.4 141.0L218.2 141.0L219.0 141.4L219.8 141.0L220.6 142.5L221.4 142.0L222.2 142.6L223.0 142.3L223.8 142.9L224.6 142.8L225.4 143.4L226.2 143.8L227.0 144.2L227.8 144.9L228.6 144.9L229.4 145.1L230.2 145.3L231.0 146.3L231.8 145.7L232.6 146.6L233.4 145.8L234.2 146.5L235.0 147.2L235.8 147.3L236.6 148.7L237.4 148.9L238.2 147.7L239.0 148.2L239.8 148.8L240.6 149.8L241.4 149.9L242.2 149.9L243.0 149.5L243.8 150.0L244.6 149.7L245.4 150.4L246.2 151.4L247.0 151.8L247.8 151.3L248.6 152.1L249.4 153.0L250.2 152.7L251.0 152.8L251.8 153.5L252.6 153.7L253.4 153.8L254.2 153.9L255.0 154.2L255.8 154.7L256.6 154.7L257.4 155.7L258.2 155.8L259.0 156.2L259.8 156.9L260.6 157.0L261.4 157.2L262.2 157.0L263.0 157.1L263.8 158.4L264.6 157.5L265.4 157.8L266.2 157.9L267.0 158.6L267.8 159.0L268.6 159.5L269.4 159.3L270.2 159.0L271.0 160.1L271.8 160.6L272.6 160.5L273.4 160.7L274.2 161.2L275.0 161.9L275.8 161.5L276.6 161.3L277.4 161.9L278.2 162.3L279.0 161.9L279.8 163.2L280.6 162.8L281.4 163.6L282.2 163.8L283.0 163.8L283.8 164.9L284.6 164.3L285.4 164.5L286.2 165.1L287.0 165.6L287.8 165.5L288.6 165.4L289.4 166.3L290.2 166.5L291.0 167.4L291.8 166.7L292.6 167.2L293.4 167.1L294.2 167.0L295.0 167.9L295.8 168.4L296.6 168.0L297.4 168.3L298.2 168.4L299.0 169.7L299.8 169.1L300.6 169.9L301.4 169.5L302.2 170.2L303.0 170.1L303.8 169.7L304.6 170.9L305.4 171.3L306.2 170.6L307.0 171.6L307.8 171.7L308.6 171.7L309.4 172.3L310.2 171.8L311.0 173.0L311.8 173.6L312.6 172.9L313.4 173.6L314.2 174.4L315.0 174.1L315.8 174.1L316.6 174.2L317.4 174.9L318.2 175.0L319.0 175.6L319.8 174.9L320.6 176.2L321.4 175.9L322.2 176.5L323.0 176.2L323.8 176.2L324.6 176.7L325.4 176.8L326.2 177.3L327.0 178.0L327.8 178.4L328.6 178.3L329.4 178.2L330.2 178.5L331.0 179.2L331.8 179.7L332.6 179.3L333.4 179.7L334.2 179.7L335.0 180.3L335.8 180.8L336.6 179.5L337.4 181.0L338.2 181.0L339.0 180.5L339.8 181.8L340.6 181.9L341.4 182.3L342.2 181.9L343.0 183.5L343.8 182.9L344.6 183.0L345.4 184.0L346.2 183.9L347.0 184.2L347.8 184.6L348.6 183.5L349.4 185.3L350.2 184.7L351.0 185.2L351.8 185.7L352.6 185.3L353.4 185.9L354.2 186.3L355.0 186.2L355.8 186.7L356.6 186.1L357.4 186.5L358.2 186.7L359.0 187.6L359.8 189.2L360.6 188.0L361.4 188.1L362.2 188.3L363.0 189.0L363.8 189.1L364.6 188.6L365.4 189.7L366.2 189.5L367.0 190.1L367.8 189.2L368.6 189.6L369.4 190.7L370.2 189.9L371.0 191.0L371.8 191.3L372.6 191.4L373.4 191.7L374.2 191.9L375.0 192.2L375.8 192.1L376.6 192.5" stroke="#00ffff" stroke-width="2.6" stroke-dasharray="8.7 2.2 1.6 2.2"/>
<path d="M377.0 193.8L377.8 193.3L378.6 193.3L379.4 193.4L380.2 193.2L381.0 193.8L381.8 193.8L382.6 194.5L383.4 194.0L384.2 193.6L385.0 194.6L385.8 195.3L386.6 196.2L387.4 195.9L388.2 195.3L389.0 195.8L389.8 195.7L390.6 196.3L391.4 196.2L392.2 196.1L393.0 197.2L393.8 197.3L394.6 197.4L395.4 197.8L396.2 198.7L397.0 198.1L397.8 198.1L398.6 198.8L399.4 198.0L400.2 199.2L401.0 198.8L401.8 199.0L402.6 199.6L403.4 200.4L404.2 199.7L405.0 200.5L405.8 200.5L406.6 200.0L407.4 201.1L408.2 200.6L409.0 200.6L409.8 201.0L410.6 201.3L411.4 202.0L412.2 201.6L413.0 202.7L413.8 202.4L414.6 202.2L415.4 202.4L416.2 203.0L417.0 202.3L417.8 202.4L418.6 203.1L419.4 203.9L420.2 204.0L421.0 204.1L421.8 204.2L422.6 203.6L423.4 204.5L424.2 204.1L425.0 205.4L425.8 205.2L426.6 205.4L427.4 205.8L428.2 205.9L429.0 206.1L429.8 206.3L430.6 206.1L431.4 206.0L432.2 206.9L433.0 207.5L433.8 207.5L434.6 207.2L435.4 207.7L436.2 207.5L437.0 208.0L437.8 207.8L438.6 208.3L439.4 209.2L440.2 208.9L441.0 209.4L441.8 208.6L442.6 208.9L443.4 209.3L444.2 209.7L445.0 209.6L445.8 210.3L446.6 209.8L447.4 210.8L448.2 210.8L449.0 210.1L449.8 211.0L450.6 210.9L451.4 211.5L452.2 211.1L453.0 211.6L453.8 211.9L454.6 210.7L455.4 211.3L456.2 212.2L457.0 212.3L457.8 212.9L458.6 212.8L459.4 212.4L460.2 213.2L461.0 212.9L461.8 213.3L462.6 213.4L463.4 213.9L464.2 213.4L465.0 213.7L465.8 213.4L466.6 215.3L467.4 214.2L468.2 214.5L469.0 214.5L469.8 214.9L470.6 215.1L471.4 215.7L472.2 215.7L473.0 216.0L473.8 215.8L474.6 216.1L475.4 216.8L476.2 216.5L477.0 216.8L477.8 216.0L478.6 217.2L479.4 217.3L480.2 217.9L481.0 216.4L481.8 217.7L482.6 217.8L483.4 218.0L484.2 217.9L485.0 218.4L485.8 218.8L486.6 218.7L487.4 218.7L488.2 218.9L489.0 219.0L489.8 219.3L490.6 219.2L491.4 218.8L492.2 220.3L493.0 219.3L493.8 220.1L494.6 219.8L495.4 220.3L496.2 220.2L497.0 220.7L497.8 220.6L498.6 220.6L499.4 221.4L500.2 221.9L501.0 221.7L501.8 221.8L502.6 221.4L503.4 222.0L504.2 222.4L505.0 222.1L505.8 222.9L506.6 222.7L507.4 223.0L508.2 222.9L509.0 223.0L509.8 223.5L510.6 223.7L511.4 223.9L512.2 223.5L513.0 223.8L513.8 224.3L514.6 223.7L515.4 225.0L516.2 224.9L517.0 225.0L517.8 224.8L518.6 225.6L519.4 225.3L520.2 226.4L521.0 225.9L521.8 225.4L522.6 226.4L523.4 226.1L524.2 226.3L525.0 226.5L525.8 226.7L526.6 227.1L527.4 227.4L528.2 227.5L529.0 227.2L529.8 227.1L530.6 227.5L531.4 228.1L532.2 228.5L533.0 229.0L533.8 227.9L534.6 228.6L535.4 228.7L536.2 228.8L537.0 229.2L537.8 229.2L538.6 229.3L539.4 229.3L540.2 229.9L541.0 230.3L541.8 230.7L542.6 230.0L543.4 230.0L544.2 230.4L545.0 230.4L545.8 231.3L546.6 230.7L547.4 231.2L548.2 230.8L549.0 231.4L549.8 231.7L550.6 232.4L551.4 231.7L552.2 232.3L553.0 231.5L553.8 232.0L554.6 232.3L555.4 232.6L556.2 233.1L557.0 233.3L557.8 232.6L558.6 233.6L559.4 233.1L560.2 234.4L561.0 234.0L561.8 234.1L562.6 234.1L563.4 234.3L564.2 234.5L565.0 234.4L565.8 235.1L566.6 235.0" stroke="#00ffff" stroke-width="2.9"/>
</g>
<g fill="none">
<path d="M488.0 42.5H543.7" stroke="#ff0000" stroke-width="1"/>
<path d="M488.0 62H543.7" stroke="#00ff00" stroke-width="4" stroke-dasharray="6 2.3"/>
<path d="M488.0 81.5H543.7" stroke="#0000ff" stroke-width="2.6" stroke-dasharray="3 4"/>
<path d="M488.0 101H543.7" stroke="#ff00ff" stroke-width="2.2" stroke-dasharray="1.6 1.9"/>
<path d="M488.0 120.3H543.7" stroke="#00ffff" stroke-width="2.6" stroke-dasharray="8.7 2.7 1.3 2.7"/>
</g>
<g fill="#000">
<text transform="translate(476.8 48.6) scale(0.972 1)" text-anchor="end">E2</text>
<text transform="translate(476.8 68.2) scale(0.972 1)" text-anchor="end">INTGC</text>
<text transform="translate(476.4 87.6) scale(0.972 1)" text-anchor="end">standard</text>
<path d="M458.3 97.8C458.5 96.1 460.3 95.5 461.2 97.4L465.5 106.8C466.2 108.5 467.3 108.9 468.2 107.8" fill="none" stroke="#000" stroke-width="1.6" stroke-linecap="round"/>
<path d="M467.5 95.9L458.9 108.9" fill="none" stroke="#000" stroke-width="1.1" stroke-linecap="round"/>
<text transform="translate(476.2 111.3) scale(0.972 1)" text-anchor="end" font-size="16">s</text>
<text transform="translate(455.7 125.0) scale(0.972 1)" text-anchor="end">ln</text>
<text transform="translate(469.3 125.0) scale(0.96 0.99)" text-anchor="end" font-family="'Liberation Serif',serif">Λ</text>
<text transform="translate(476.2 131.0) scale(0.972 1)" text-anchor="end" font-size="16">s</text>
</g>
</svg>
</body></html>
